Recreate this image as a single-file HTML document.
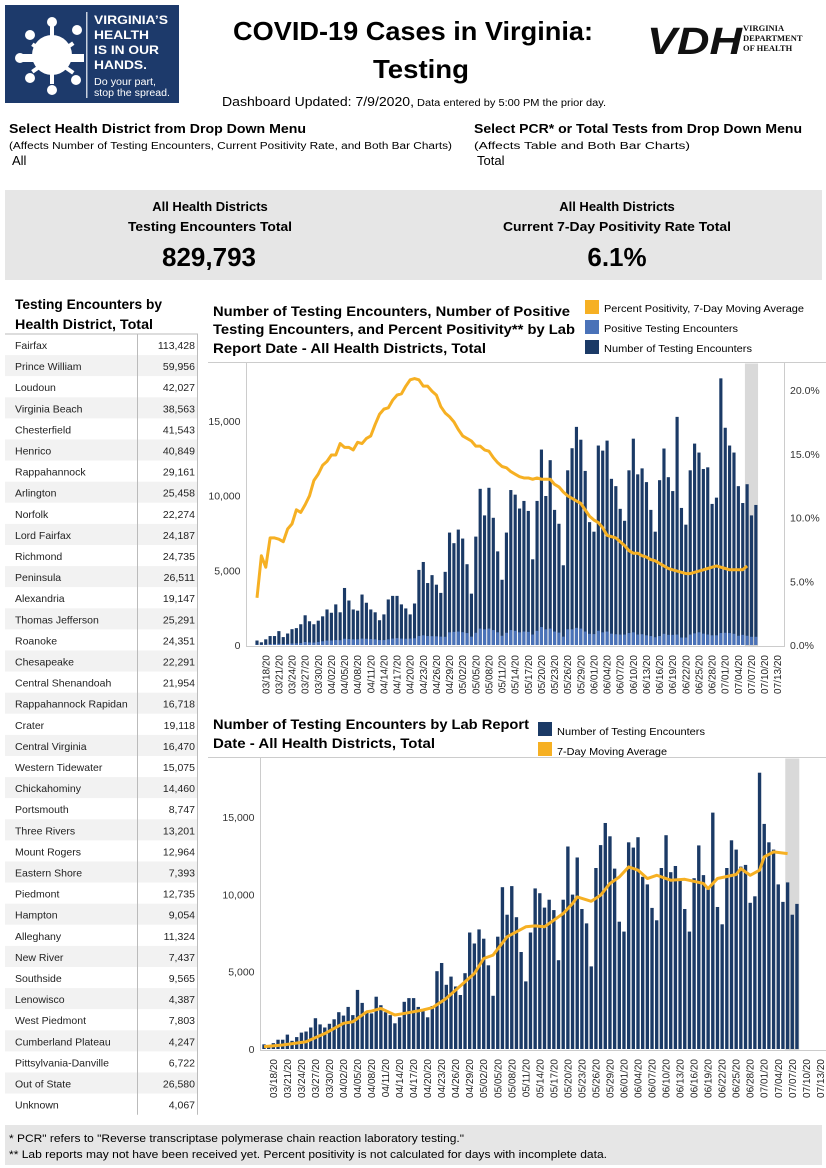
<!DOCTYPE html>
<html><head><meta charset="utf-8"><style>
html,body{margin:0;padding:0;background:#fff;}
svg{display:block;font-family:"Liberation Sans",sans-serif;}
</style></head><body>
<svg id="page" width="826" height="1168" viewBox="0 0 826 1168" xmlns="http://www.w3.org/2000/svg">
<g>
<rect x="5" y="5" width="174" height="98" fill="#1d3a6b"/>
<g fill="#fff">
<circle cx="52" cy="55" r="20"/>
<rect x="20" y="54" width="64" height="8"/>
<circle cx="30" cy="35" r="5"/><circle cx="52" cy="22" r="5"/><circle cx="77" cy="30" r="5"/>
<circle cx="20" cy="58" r="5"/><circle cx="30" cy="78" r="5"/><circle cx="52" cy="90" r="5"/><circle cx="76" cy="80" r="5"/>
<rect x="50" y="24" width="4" height="60"/><rect x="28" y="56" width="50" height="4" transform="rotate(35 52 58)"/>
<rect x="28" y="56" width="50" height="4" transform="rotate(-35 52 58)"/>
</g>
<rect x="86" y="12" width="1.5" height="86" fill="#c8d0de"/>
<text x="94" y="24" fill="#fff" font-size="12" font-weight="bold" textLength="74" lengthAdjust="spacingAndGlyphs">VIRGINIA’S</text>
<text x="94" y="39" fill="#fff" font-size="12" font-weight="bold" textLength="55" lengthAdjust="spacingAndGlyphs">HEALTH</text>
<text x="94" y="54" fill="#fff" font-size="12" font-weight="bold" textLength="65" lengthAdjust="spacingAndGlyphs">IS IN OUR</text>
<text x="94" y="69" fill="#fff" font-size="12" font-weight="bold" textLength="53" lengthAdjust="spacingAndGlyphs">HANDS.</text>
<text x="94" y="85" fill="#fff" font-size="10" textLength="62" lengthAdjust="spacingAndGlyphs">Do your part,</text>
<text x="94" y="96" fill="#fff" font-size="10" textLength="76" lengthAdjust="spacingAndGlyphs">stop the spread.</text>
</g>
<text x="413" y="40" text-anchor="middle" font-size="26" font-weight="bold" textLength="360" lengthAdjust="spacingAndGlyphs">COVID-19 Cases in Virginia:</text>
<text x="421" y="78" text-anchor="middle" font-size="26" font-weight="bold" textLength="96" lengthAdjust="spacingAndGlyphs">Testing</text>
<g>
<text x="647" y="54" font-size="38" font-weight="bold" font-style="italic" textLength="95" lengthAdjust="spacingAndGlyphs" fill="#111">VDH</text>
<text x="743" y="31" font-size="8.5" font-family="Liberation Serif" font-weight="bold" fill="#111">VIRGINIA</text>
<text x="743" y="41" font-size="8.5" font-family="Liberation Serif" font-weight="bold" fill="#111">DEPARTMENT</text>
<text x="743" y="51" font-size="8.5" font-family="Liberation Serif" font-weight="bold" fill="#111">OF HEALTH</text>
</g>
<text x="222" y="106" font-size="12.5" textLength="192" lengthAdjust="spacingAndGlyphs">Dashboard Updated: 7/9/2020,</text>
<text x="417" y="106" font-size="10" textLength="189" lengthAdjust="spacingAndGlyphs">Data entered by 5:00 PM the prior day.</text>
<text x="9" y="133" font-size="13" font-weight="bold" textLength="297" lengthAdjust="spacingAndGlyphs">Select Health District from Drop Down Menu</text>
<text x="9" y="149" font-size="10" textLength="443" lengthAdjust="spacingAndGlyphs">(Affects Number of Testing Encounters, Current Positivity Rate, and Both Bar Charts)</text>
<text x="12" y="165" font-size="13">All</text>
<text x="474" y="133" font-size="13" font-weight="bold" textLength="328" lengthAdjust="spacingAndGlyphs">Select PCR* or Total Tests from Drop Down Menu</text>
<text x="474" y="149" font-size="10" textLength="216" lengthAdjust="spacingAndGlyphs">(Affects Table and Both Bar Charts)</text>
<text x="477" y="165" font-size="13">Total</text>
<g>
<rect x="5" y="190" width="817" height="90" fill="#e6e6e6"/>
<text x="210" y="211" text-anchor="middle" font-size="13" font-weight="bold">All Health Districts</text>
<text x="210" y="231" text-anchor="middle" font-size="13" font-weight="bold" textLength="164" lengthAdjust="spacingAndGlyphs">Testing Encounters Total</text>
<text x="209" y="266" text-anchor="middle" font-size="26" font-weight="bold">829,793</text>
<text x="617" y="211" text-anchor="middle" font-size="13" font-weight="bold">All Health Districts</text>
<text x="617" y="231" text-anchor="middle" font-size="13" font-weight="bold" textLength="228" lengthAdjust="spacingAndGlyphs">Current 7-Day Positivity Rate Total</text>
<text x="617" y="266" text-anchor="middle" font-size="26" font-weight="bold">6.1%</text>
</g>
<text x="15" y="309" font-size="14" font-weight="bold" textLength="147" lengthAdjust="spacingAndGlyphs">Testing Encounters by</text>
<text x="15" y="329" font-size="14" font-weight="bold" textLength="138" lengthAdjust="spacingAndGlyphs">Health District, Total</text>
<g id="table"></g>
<text x="213" y="316" font-size="14" font-weight="bold" textLength="357" lengthAdjust="spacingAndGlyphs">Number of Testing Encounters, Number of Positive</text>
<text x="213" y="334" font-size="14" font-weight="bold" textLength="362" lengthAdjust="spacingAndGlyphs">Testing Encounters, and Percent Positivity** by Lab</text>
<text x="213" y="353" font-size="14" font-weight="bold" textLength="273" lengthAdjust="spacingAndGlyphs">Report Date - All Health Districts, Total</text>
<g>
<rect x="585" y="300" width="14" height="14" fill="#f6b023"/><text x="604" y="312" font-size="10.5" textLength="200" lengthAdjust="spacingAndGlyphs">Percent Positivity, 7-Day Moving Average</text>
<rect x="585" y="320" width="14" height="14" fill="#4a72b8"/><text x="604" y="332" font-size="10.5" textLength="134" lengthAdjust="spacingAndGlyphs">Positive Testing Encounters</text>
<rect x="585" y="340" width="14" height="14" fill="#1b3a66"/><text x="604" y="352" font-size="10.5" textLength="148" lengthAdjust="spacingAndGlyphs">Number of Testing Encounters</text>
</g>
<g id="chart1"></g>
<text x="213" y="729" font-size="14" font-weight="bold" textLength="316" lengthAdjust="spacingAndGlyphs">Number of Testing Encounters by Lab Report</text>
<text x="213" y="748" font-size="14" font-weight="bold" textLength="222" lengthAdjust="spacingAndGlyphs">Date - All Health Districts, Total</text>
<g>
<rect x="538" y="722" width="14" height="14" fill="#1b3a66"/><text x="557" y="735" font-size="10.5" textLength="148" lengthAdjust="spacingAndGlyphs">Number of Testing Encounters</text>
<rect x="538" y="742" width="14" height="14" fill="#f6b023"/><text x="557" y="755" font-size="10.5" textLength="110" lengthAdjust="spacingAndGlyphs">7-Day Moving Average</text>
</g>
<g id="chart2"></g>
<g>
<rect x="5" y="1125" width="817" height="40" fill="#e6e6e6"/>
<text x="9" y="1142" font-size="11" textLength="455" lengthAdjust="spacingAndGlyphs">* PCR" refers to "Reverse transcriptase polymerase chain reaction laboratory testing."</text>
<text x="9" y="1158" font-size="11" textLength="598" lengthAdjust="spacingAndGlyphs">** Lab reports may not have been received yet. Percent positivity is not calculated for days with incomplete data.</text>
</g>
</svg>
<script>
const districts=["Fairfax","Prince William","Loudoun","Virginia Beach","Chesterfield","Henrico","Rappahannock","Arlington","Norfolk","Lord Fairfax","Richmond","Peninsula","Alexandria","Thomas Jefferson","Roanoke","Chesapeake","Central Shenandoah","Rappahannock Rapidan","Crater","Central Virginia","Western Tidewater","Chickahominy","Portsmouth","Three Rivers","Mount Rogers","Eastern Shore","Piedmont","Hampton","Alleghany","New River","Southside","Lenowisco","West Piedmont","Cumberland Plateau","Pittsylvania-Danville","Out of State","Unknown"];
const districtTotals=["113,428","59,956","42,027","38,563","41,543","40,849","29,161","25,458","22,274","24,187","24,735","26,511","19,147","25,291","24,351","22,291","21,954","16,718","19,118","16,470","15,075","14,460","8,747","13,201","12,964","7,393","12,735","9,054","11,324","7,437","9,565","4,387","7,803","4,247","6,722","26,580","4,067"];
const totals=[300,180,380,600,600,930,530,770,1060,1130,1390,1990,1590,1390,1630,1920,2380,2160,2720,2190,3820,2980,2380,2300,3380,2830,2380,2190,1660,2050,3050,3290,3290,2720,2450,2050,2780,5030,5560,4150,4680,4040,3490,4900,7530,6820,7730,7130,5410,3440,7260,10460,8680,10530,8520,6270,4370,7530,10380,10070,9140,9650,8980,5740,9650,13090,9980,12380,9050,8120,5340,11700,13180,14610,13750,11660,8230,7590,13360,13020,13690,11130,10640,9120,8320,11700,13820,11430,11830,10910,9050,7590,11040,13160,11240,10310,15280,9180,8060,11700,13490,12890,11790,11900,9450,9870,17860,14550,13360,12890,10640,9510,10770,8680,9380];
const positives=[20,20,30,60,60,80,50,70,100,110,130,200,170,160,200,250,300,300,330,320,420,400,380,380,430,420,400,380,330,330,380,430,460,430,420,430,450,600,650,600,590,580,560,550,850,880,900,860,800,560,820,1100,1050,1100,1000,850,620,820,1000,950,850,900,880,700,950,1200,1050,1100,900,830,560,1050,1050,1150,1100,900,750,730,950,850,900,760,720,700,700,800,850,700,720,650,600,520,600,750,680,680,700,500,500,700,780,850,760,700,650,650,800,820,800,750,620,680,620,550,550];
const positivity=[3.7,7.0,6.1,8.4,8.4,8.3,8.1,9.1,9.5,10.6,10.4,11.0,11.7,12.9,13.4,14.1,14.4,14.9,14.9,15.8,15.5,15.5,15.3,15.9,15.8,16.2,16.4,17.3,18.1,18.5,18.6,19.2,19.6,19.7,20.3,20.8,20.9,20.8,20.3,20.3,19.9,19.6,18.7,18.2,17.9,17.5,16.9,16.4,16.2,16.0,15.6,15.6,15.3,15.2,14.7,14.3,14.0,13.9,13.6,13.4,13.2,13.1,13.1,13.0,13.1,13.0,13.0,13.0,12.6,12.4,12.0,11.7,11.5,11.3,11.1,10.6,10.1,9.8,9.6,9.2,8.6,8.5,8.4,8.1,7.8,7.4,7.2,7.2,7.0,6.9,6.7,6.6,6.4,6.2,6.0,5.9,5.8,5.7,5.6,5.6,5.7,5.8,5.9,6.0,6.1,6.2,6.1,6.0,5.9,5.9,5.9,5.9,6.2];
const maDays=[0,4,9,13,17,19,22,23,25,28,30,34,36,39,43,45,47,49,52,56,58,60,64,66,67,70,72,74,76,78,80,82,84,87,90,94,95,97,101,102,104,106,107,109,112];
const maValues=[150,260,470,1000,1660,1760,2410,2450,2620,2200,2300,2520,2670,3270,4350,4880,5850,6070,7250,7900,7960,7900,8760,9400,9830,9550,9940,10700,11120,11770,11560,11020,11230,10910,10970,10700,10370,11020,11280,11660,11230,11560,12420,12740,12630];
const leftTicks=[0,5000,10000,15000];
const leftTickLabels=["0","5,000","10,000","15,000"];
const pctTicks=[0,5,10,15,20];
const pctTickLabels=["0.0%","5.0%","10.0%","15.0%","20.0%"];
const startDate=[2020,2,16];
const incompleteFrom=112;

const NS="http://www.w3.org/2000/svg";
function mk(tag,attrs,parent){const e=document.createElementNS(NS,tag);for(const k in attrs)e.setAttribute(k,attrs[k]);parent.appendChild(e);return e;}
function fmtDate(i){const d=new Date(startDate[0],startDate[1],startDate[2]+i);return String(d.getMonth()+1).padStart(2,"0")+"/"+String(d.getDate()).padStart(2,"0")+"/20";}

const tb=document.getElementById("table");
const rowH=21.1, t0=334;
districts.forEach((n,i)=>{
  const y=t0+i*rowH;
  const g=mk("g",{},tb);
  
  
  mk("rect",{x:5,y:y,width:193,height:rowH,fill:i%2?"#f2f2f2":"#fff"},g);
  const t=mk("text",{x:15,y:y+15,"font-size":"10.5",fill:"#222"},g);t.textContent=n;
  const v=mk("text",{x:195,y:y+15,"font-size":"10.5","text-anchor":"end",fill:"#222"},g);v.textContent=districtTotals[i];
});
mk("line",{x1:5,y1:t0,x2:198,y2:t0,stroke:"#bbb"},tb);
mk("line",{x1:137.5,y1:t0,x2:137.5,y2:t0+districts.length*rowH,stroke:"#bbb"},tb);
mk("line",{x1:197.5,y1:t0,x2:197.5,y2:t0+districts.length*rowH,stroke:"#bbb"},tb);

function drawChart(gid,cfg){
  const g=document.getElementById(gid);
  const x=i=>cfg.x0+i*cfg.dw;
  const y=v=>cfg.base-v*cfg.ky;
  const bw=cfg.dw*0.72;
  mk("line",{x1:cfg.frameL,y1:cfg.top,x2:826,y2:cfg.top,stroke:"#ccc"},g);
  mk("line",{x1:cfg.axisX,y1:cfg.top,x2:cfg.axisX,y2:cfg.base+2,stroke:"#ccc"},g);
  mk("line",{x1:cfg.axisX,y1:cfg.base+1.5,x2:cfg.right,y2:cfg.base+1.5,stroke:"#ccc"},g);
  if(cfg.rightAxis) mk("line",{x1:cfg.right,y1:cfg.top,x2:cfg.right,y2:cfg.base+2,stroke:"#ccc"},g);
  const band=mk("rect",{x:x(incompleteFrom)-cfg.dw/2,y:cfg.top+1,width:cfg.dw*(totals.length-incompleteFrom),height:cfg.base-cfg.top,fill:"#d9d9d9"},g);
  
  
  leftTicks.forEach((t,i)=>{const e=mk("text",{x:cfg.axisX-6,y:y(t)+4,"font-size":"10.5","text-anchor":"end",fill:"#333"},g);e.textContent=leftTickLabels[i];
    
    });
  totals.forEach((v,i)=>{
    const r=mk("rect",{x:x(i)-bw/2,y:y(v),width:bw,height:v*cfg.ky,fill:"#1b3a66"},g);
    
    
    if(cfg.pos){const p=mk("rect",{x:x(i)-bw/2,y:y(positives[i]),width:bw,height:positives[i]*cfg.ky,fill:"#4a72b8"},g);
      
      }
  });
  for(let i=2;i<=119;i+=3){
    const tx=x(i)+3.5, ty=cfg.base+10;
    const t=mk("text",{x:tx,y:ty,"font-size":"10","text-anchor":"end",transform:`rotate(-90 ${tx} ${ty})`,fill:"#222"},g);
    t.textContent=fmtDate(i);
    
    
  }
  return {x,y,g};
}

const c1=drawChart("chart1",{x0:257,dw:4.376,base:645,ky:0.01493,top:362.5,frameL:208,axisX:246.5,right:784.5,rightAxis:true,pos:true});
const py=v=>645-v*12.75;
pctTicks.forEach((t,i)=>{const e=mk("text",{x:790,y:py(t)+4,"font-size":"10.5",fill:"#333"},c1.g);e.textContent=pctTickLabels[i];
  
  });
const l1=mk("polyline",{points:positivity.map((v,i)=>c1.x(i)+","+py(v)).join(" "),fill:"none",stroke:"#f6b023","stroke-width":"3","stroke-linejoin":"round"},c1.g);



const c2=drawChart("chart2",{x0:264,dw:4.675,base:1049,ky:0.01547,top:757.5,frameL:208,axisX:260.5,right:826,rightAxis:false,pos:false});
const l2=mk("polyline",{points:maValues.map((v,i)=>c2.x(maDays[i])+","+c2.y(v)).join(" "),fill:"none",stroke:"#f6b023","stroke-width":"3","stroke-linejoin":"round"},c2.g);


</script>
</body></html>
